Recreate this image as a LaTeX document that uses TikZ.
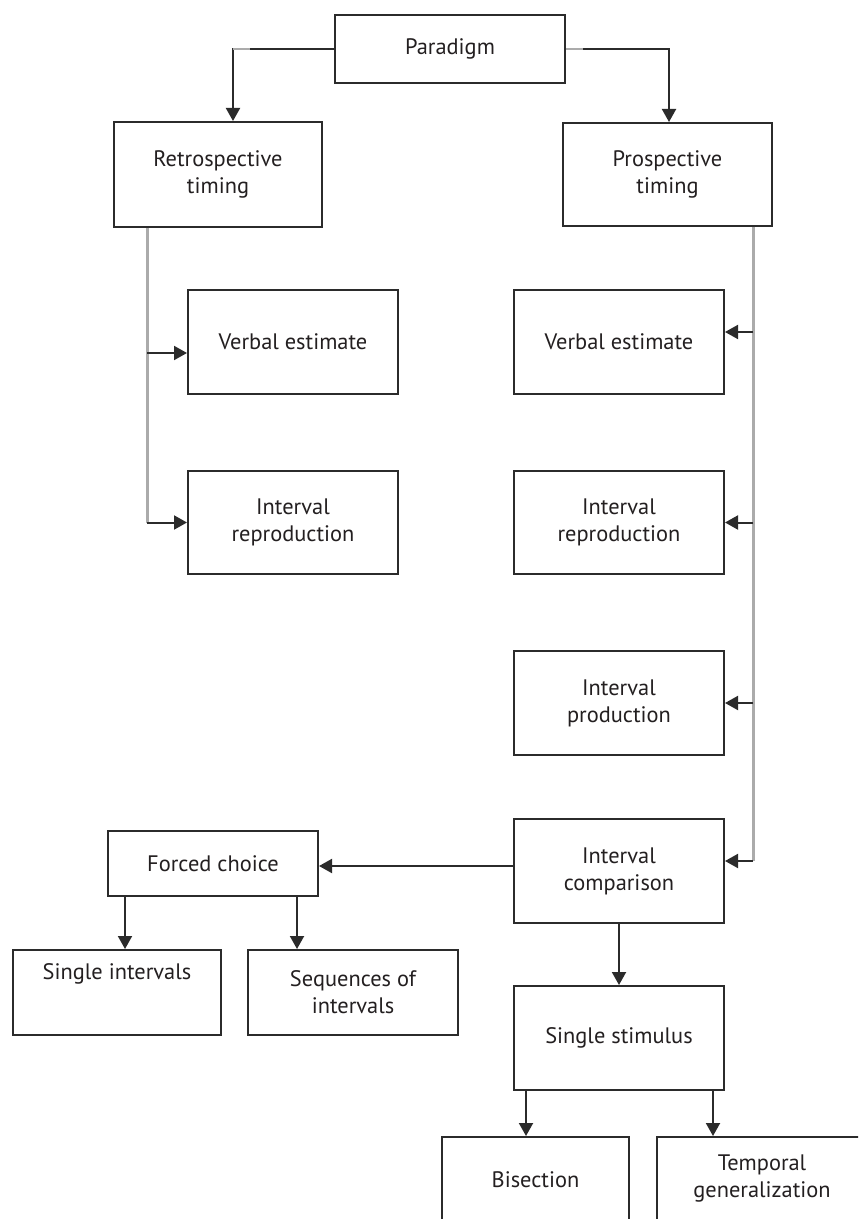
\documentclass[tikz,border=0pt]{standalone}
\usepackage{fontspec}
\setmainfont{PT Sans}
\usetikzlibrary{arrows.meta,calc}
\definecolor{boxc}{HTML}{2B2B2B}
\definecolor{txtc}{HTML}{231F20}
\definecolor{busc}{HTML}{ABABAB}
\tikzset{
  box/.style={draw=boxc, line width=1pt, inner sep=0pt, align=center,
    text=txtc, font=\fontsize{11.2pt}{13.5pt}\selectfont,
    minimum width=105pt, minimum height=52pt},
  conn/.style={draw=boxc, line width=1pt,
    -{Triangle[length=6.5pt,width=7pt]}},
  bus/.style={draw=busc, line width=1.5pt},
  lbl/.style={text=txtc, font=\fontsize{11.2pt}{13.5pt}\selectfont, inner sep=0pt}
}
\begin{document}
\begin{tikzpicture}[x=0.5pt,y=-0.5pt]
\useasboundingbox (0,0) rectangle (858,1219);
\clip (0,0) rectangle (858,1219);
% boxes
\node[box, minimum width=115pt, minimum height=34pt] (par) at (450,49) {Paradigm};
\node[box, minimum width=104pt, minimum height=52.5pt] (ret) at (218,174.5) {Retrospective\\timing};
\node[box, minimum width=104.5pt, minimum height=51.5pt] (pro) at (667.5,174.5) {Prospective\\timing};
\node[box] (veL) at (293,342) {Verbal estimate};
\node[box, minimum height=51.5pt] (irL) at (293,522.5) {Interval\\reproduction};
\node[box] (veR) at (619,342) {Verbal estimate};
\node[box, minimum height=51.5pt] (irR) at (619,522.5) {Interval\\reproduction};
\node[box] (ip) at (619,703) {Interval\\production};
\node[box] (ic) at (619,871) {Interval\\comparison};
\node[box, minimum height=32.5pt] (fc) at (213,863.5) {Forced choice};
\node[box, minimum width=104pt, minimum height=42.5pt] (si) at (117,992.5) {};
\node[lbl] (sit) at (117,974) {Single intervals};
\node[box, minimum height=42.5pt] (sq) at (353,992.5) {Sequences of\\intervals};
\node[box] (ss) at (619,1038) {Single stimulus};
\node[box, minimum width=93.5pt, minimum height=43pt] (bi) at (535.5,1180) {Bisection};
\node[box, minimum height=42pt] (tg) at (762,1179) {Temporal\\generalization};
% paradigm branches
\draw[conn] (par.west) -| ([xshift=7.5pt]ret.north);
\draw[conn] (par.east) -| ([xshift=0.75pt]pro.north);
\coordinate (gl1) at ([xshift=7.5pt]ret.north |- par.west);
\coordinate (gr1) at (par.east);
\draw[busc, line width=1pt] (gl1) -- ++(17,0);
\draw[busc, line width=1pt] (gr1) -- ++(17,0);
% anchor points
\coordinate (veLa) at ([yshift=-5.5pt]veL.west);
\coordinate (veRa) at ([yshift=5pt]veR.east);
\coordinate (icRa) at ([yshift=5pt]ic.east);
\coordinate (icLa) at ([yshift=2.5pt]ic.west);
% retrospective bus
\coordinate (rb) at ([xshift=-35.5pt]ret.south);
\draw[bus] (rb) -- (rb |- irL.west);
\draw[conn] (rb |- veLa) -- (veLa);
\draw[conn] (rb |- irL.west) -- (irL.west);
% prospective bus
\coordinate (pb) at ([xshift=42.75pt]pro.south);
\draw[bus] (pb) -- (pb |- icRa);
\draw[conn] (pb |- veRa) -- (veRa);
\draw[conn] (pb |- irR.east) -- (irR.east);
\draw[conn] (pb |- ip.east) -- (ip.east);
\draw[conn] (pb |- icRa) -- (icRa);
% interval comparison
\draw[conn] (icLa) -- (icLa -| fc.east);
\draw[conn] (ic.south) -- (ss.north);
% forced choice
\draw[conn] ([xshift=4pt]si.north |- fc.south) -- ([xshift=4pt]si.north);
\draw[conn] ([xshift=-28pt]sq.north |- fc.south) -- ([xshift=-28pt]sq.north);
% single stimulus
\draw[conn] ([xshift=-4.75pt]bi.north |- ss.south) -- ([xshift=-4.75pt]bi.north);
\draw[conn] ([xshift=-24.5pt]tg.north |- ss.south) -- ([xshift=-24.5pt]tg.north);
\end{tikzpicture}
\end{document}
